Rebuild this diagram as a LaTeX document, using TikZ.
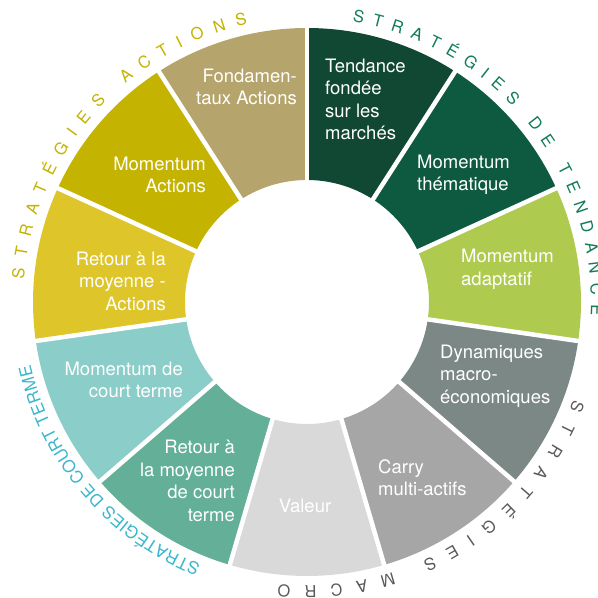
\documentclass[tikz,border=0pt]{standalone}
\usepackage{fontspec}
\setmainfont{TeX Gyre Heros}
\usetikzlibrary{decorations.text}
\definecolor{cTend}{RGB}{17,72,52}
\definecolor{cThem}{RGB}{14,90,64}
\definecolor{cAdap}{RGB}{174,203,80}
\definecolor{cDyn}{RGB}{124,136,133}
\definecolor{cCarry}{RGB}{166,166,166}
\definecolor{cVal}{RGB}{217,217,217}
\definecolor{cRetCT}{RGB}{100,175,151}
\definecolor{cMomCT}{RGB}{139,205,200}
\definecolor{cRetAct}{RGB}{222,197,42}
\definecolor{cMomAct}{RGB}{196,179,0}
\definecolor{cFond}{RGB}{181,164,107}
\definecolor{tAct}{RGB}{196,179,0}
\definecolor{tTend}{RGB}{18,125,85}
\definecolor{tMacro}{RGB}{90,90,90}
\definecolor{tCT}{RGB}{58,182,204}
\tikzset{
  lbl/.style={text=white, font=\fontsize{18.5}{22.5}\selectfont, inner sep=0pt},
  gapline/.style={white, line width=4.5pt},
  arclabel/.style={decorate, decoration={text along path, text align={fit to path}, text color=#1}},
}
\begin{document}
\begin{tikzpicture}[x=1pt,y=1pt]
\useasboundingbox (0,0) rectangle (598,598);
\begin{scope}[shift={(307,296)}]
  \def\Ro{274}
  \def\Ri{122}
  \foreach \i/\col in {0/cTend,1/cThem,2/cAdap,3/cDyn,4/cCarry,5/cVal,6/cRetCT,7/cMomCT,8/cRetAct,9/cMomAct,10/cFond} {
    \pgfmathsetmacro\a{90-\i*360/11}
    \pgfmathsetmacro\b{90-(\i+1)*360/11}
    \fill[\col] (\a:\Ro) arc[start angle=\a, end angle=\b, radius=\Ro] -- (\b:\Ri) arc[start angle=\b, end angle=\a, radius=\Ri] -- cycle;
  }
  \foreach \k in {0,...,10} {
    \pgfmathsetmacro\a{90-\k*360/11}
    \draw[gapline] (\a:\Ri-6) -- (\a:\Ro+6);
  }
  \path[arclabel=tAct, decoration={text={|\fontsize{16.5}{16.5}\selectfont|STRATÉGIES ACTIONS}}]
    (175.4:284) arc[start angle=175.4, end angle=102.1, radius=284];
  \path[arclabel=tTend, decoration={text={|\fontsize{16.5}{16.5}\selectfont|STRATÉGIES DE TENDANCE}}]
    (80.8:284) arc[start angle=80.8, end angle=-2.6, radius=284];
  \path[arclabel=tMacro, decoration={text={|\fontsize{16.5}{16.5}\selectfont|STRATÉGIES MACRO}}]
    (-20.1:284) arc[start angle=-20.1, end angle=-95.8, radius=284];
  \path[arclabel=tCT, decoration={text={|\fontsize{17}{17}\selectfont|STRATÉGIES DE COURT TERME}}]
    (-112.0:283.5) arc[start angle=-112.0, end angle=-167.2, radius=283.5];
\end{scope}
\node[lbl, anchor=east, align=right] (fond) at (297,511) {Fondamen-\\taux Actions};
\node[lbl, anchor=west, align=left] (tend) at (325,498.5) {Tendance\\fondée\\sur les\\marchés};
\node[lbl, anchor=west, align=left] (them) at (417,423) {Momentum\\thématique};
\node[lbl, anchor=west, align=left] (adap) at (461,328.5) {Momentum\\adaptatif};
\node[lbl, anchor=west, align=left] (dyn) at (440,222) {Dynamiques\\macro-\\économiques};
\node[lbl, anchor=west, align=left] (carry) at (378,120.5) {Carry\\multi-actifs};
\node[lbl, anchor=center] (val) at (305,92) {Valeur};
\node[lbl, anchor=east, align=right] (retct) at (235,117) {Retour à\\la moyenne\\de court\\terme};
\node[lbl, anchor=east, align=right] (momct) at (183,218) {Momentum de\\court terme};
\node[lbl, anchor=east, align=right] (retact) at (166,317) {Retour à la\\moyenne -\\Actions};
\node[lbl, anchor=east, align=right] (momact) at (206,423) {Momentum\\Actions};
\end{tikzpicture}
\end{document}
